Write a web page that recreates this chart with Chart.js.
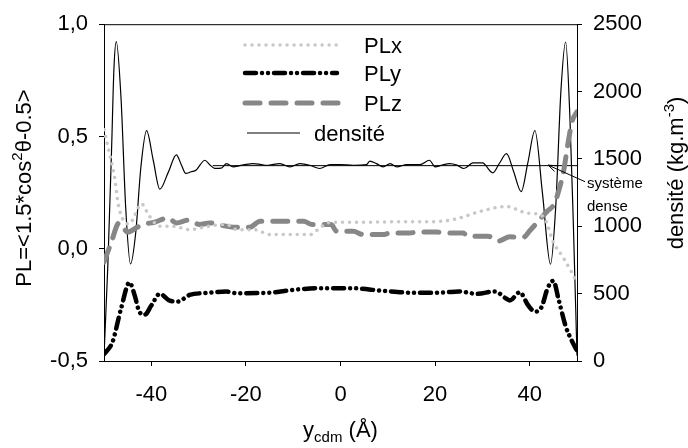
<!DOCTYPE html>
<html>
<head>
<meta charset="utf-8">
<script src="https://cdn.jsdelivr.net/npm/chart.js@4"></script>
<style>
  html, body { margin: 0; padding: 0; background: #fff; }
  #wrap { width: 688px; height: 448px; }
</style>
</head>
<body>
<div id="wrap"><canvas id="chart" width="688" height="448"></canvas></div>
<script>
// x positions (Å) and values
const plxX = [-50, -48.8, -47.7, -47.0, -46.0, -44.6, -43.5, -42.1, -40.4, -38.2, -35.4, -31.9, -28.0, -24.1, -21.9, -18.3, -14.8, -6.4, -4.2, -2.1, 5, 12, 18, 23.1, 25.2, 29.5, 35.1, 39.4, 42.2, 43.5, 44.9, 47.1, 48.9, 49.8];
const plxY = [0.53, 0.42, 0.31, 0.20, 0.13, 0.11, 0.15, 0.20, 0.145, 0.10, 0.10, 0.085, 0.10, 0.108, 0.085, 0.085, 0.063, 0.063, 0.096, 0.118, 0.118, 0.12, 0.12, 0.127, 0.137, 0.166, 0.188, 0.159, 0.152, 0.12, 0.034, -0.04, -0.106, -0.145];

const plyX = [-50, -48.2, -46.4, -44.6, -43.5, -42.5, -41.4, -40.0, -38.2, -36.1, -34.4, -31.9, -28.4, -24.1, -22, -15, -9.5, -4.4, 2.3, 8.8, 15.4, 21.7, 25, 28.9, 32.6, 35.1, 35.8, 37.9, 39.7, 41.1, 42.5, 43.8, 45.0, 46.1, 47.6, 48.9, 49.9];
const plyY = [-0.47, -0.415, -0.267, -0.15, -0.209, -0.282, -0.294, -0.253, -0.201, -0.231, -0.235, -0.206, -0.197, -0.191, -0.198, -0.196, -0.182, -0.176, -0.176, -0.187, -0.196, -0.195, -0.19, -0.201, -0.19, -0.223, -0.23, -0.194, -0.253, -0.28, -0.26, -0.175, -0.143, -0.225, -0.345, -0.41, -0.45];

const plzX = [-50, -48.5, -46.8, -45.0, -43.2, -41.8, -39.3, -36.5, -34.7, -32.2, -29.8, -27.7, -24.8, -22.7, -19.2, -17, -11.7, -7.8, -6, -2, -0.8, 2.7, 4.8, 9, 10.5, 14.7, 16, 20.3, 23, 25.9, 27, 31.2, 33.3, 35.8, 38.6, 40, 41.5, 43.6, 45.2, 46.3, 47.2, 48.1, 49, 50];
const plzY = [-0.06, 0.026, 0.115, 0.074, 0.093, 0.108, 0.118, 0.137, 0.115, 0.127, 0.108, 0.115, 0.103, 0.096, 0.096, 0.122, 0.122, 0.122, 0.108, 0.108, 0.078, 0.078, 0.063, 0.063, 0.07, 0.07, 0.074, 0.074, 0.07, 0.07, 0.056, 0.056, 0.034, 0.053, 0.05, 0.08, 0.115, 0.165, 0.2, 0.27, 0.35, 0.47, 0.57, 0.61];

const densX = [-50, -49.2, -48.4, -47.9, -47.4, -46.4, -45.4, -44.4, -43.3, -42.2, -41.0, -39.6, -38.2, -36.4, -34.7, -33.7, -32.7, -31.6, -30.5, -29.6, -28.7, -27.6, -26.6, -25.2, -24.1, -22.7, -21.3, -19.9, -18.5, -17.0, -15.6, -14.2, -12.8, -10.7, -8.6, -6.5, -4.4, -2.2, -0.1, 2.7, 5.5, 6.2, 7.6, 9.0, 10.5, 11.9, 14.0, 16.8, 18.8, 20.0, 21.5, 23.1, 24.6, 26.1, 28.0, 30.0, 32.2, 33.6, 35.1, 36.6, 38.2, 39.6, 41.1, 42.7, 44.4, 45.5, 46.6, 47.6, 48.5, 49.2, 50];
const densY = [40, 700, 1570, 2170, 2370, 1950, 1130, 720, 950, 1440, 1710, 1492, 1275, 1402, 1530, 1461, 1392, 1405, 1418, 1460, 1490, 1455, 1430, 1432, 1465, 1441, 1450, 1460, 1465, 1460, 1453, 1460, 1465, 1441, 1465, 1453, 1429, 1458, 1458, 1453, 1458, 1483, 1465, 1441, 1465, 1441, 1458, 1458, 1490, 1441, 1455, 1465, 1454, 1429, 1470, 1470, 1397, 1468, 1539, 1407, 1257, 1470, 1711, 1244, 718, 1143, 2005, 2368, 1810, 1050, 40];

// bulk density of the dense system
const bulkX = [-27, 50];
const bulkY = [1450, 1450];

const xTicks = [-40, -20, 0, 20, 40];

const pts = (xs, ys) => xs.map((x, i) => ({ x: x, y: ys[i] }));
const FONT = "'Liberation Sans', Arial, sans-serif";

function drawRuns(ctx, runs, x, y) {
  let total = 0;
  runs.forEach(r => { ctx.font = r.size + "px " + FONT; r.w = ctx.measureText(r.t).width; total += r.w; });
  let cx = x - total / 2;
  runs.forEach(r => {
    ctx.font = r.size + "px " + FONT;
    ctx.fillText(r.t, cx, y + (r.dy || 0));
    cx += r.w;
  });
}

const overlay = {
  id: "overlay",
  beforeDraw(chart) {
    const ctx = chart.ctx;
    ctx.save();
    ctx.fillStyle = "#fff";
    ctx.fillRect(0, 0, chart.width, chart.height);
    ctx.restore();
  },
  afterDraw(chart) {
    const ctx = chart.ctx;
    const a = chart.chartArea;
    const sx = chart.scales.x, sy2 = chart.scales.y2;
    ctx.save();
    ctx.strokeStyle = "#000";
    ctx.lineWidth = 1;
    ctx.beginPath();
    ctx.moveTo(a.left, a.top + 0.5);
    ctx.lineTo(a.right, a.top + 0.5);
    ctx.stroke();

    // arrow "système dense"
    const tipX = sx.getPixelForValue(43.9), tipY = sy2.getPixelForValue(1454);
    const tailX = sx.getPixelForValue(51.7), tailY = sy2.getPixelForValue(1331);
    ctx.beginPath();
    ctx.moveTo(tailX, tailY);
    ctx.lineTo(tipX, tipY);
    const ang = Math.atan2(tipY - tailY, tipX - tailX);
    for (const s of [-1, 1]) {
      ctx.moveTo(tipX, tipY);
      ctx.lineTo(tipX - 9 * Math.cos(ang + s * 0.35), tipY - 9 * Math.sin(ang + s * 0.35));
    }
    ctx.stroke();
    ctx.fillStyle = "#000";
    ctx.font = "15px " + FONT;
    ctx.textAlign = "left";
    ctx.textBaseline = "middle";
    ctx.fillText("système", sx.getPixelForValue(52.1), sy2.getPixelForValue(1316));
    ctx.fillText("dense", sx.getPixelForValue(52.1), sy2.getPixelForValue(1147));

    // legend
    const rows = [
      { ds: 0, y: 45, x0: 245, x1: 342, tx: 364 },
      { ds: 1, y: 73, x0: 245, x1: 337, tx: 364 },
      { ds: 2, y: 103, x0: 245, x1: 342, tx: 364 },
      { ds: 3, y: 133, x0: 247, x1: 300, tx: 314 }
    ];
    rows.forEach(r => {
      const d = chart.data.datasets[r.ds];
      ctx.save();
      ctx.strokeStyle = d.borderColor;
      ctx.lineWidth = d.borderWidth;
      ctx.lineCap = d.borderCapStyle || "butt";
      ctx.setLineDash(d.borderDash || []);
      ctx.beginPath();
      ctx.moveTo(r.x0, r.y);
      ctx.lineTo(r.x1, r.y);
      ctx.stroke();
      ctx.restore();
      ctx.fillStyle = "#000";
      ctx.font = "22px " + FONT;
      ctx.textAlign = "left";
      ctx.textBaseline = "alphabetic";
      ctx.fillText(d.label, r.tx, r.y + 8);
    });

    // axis titles
    ctx.textAlign = "left";
    ctx.textBaseline = "alphabetic";
    ctx.fillStyle = "#000";
    drawRuns(ctx, [
      { t: "y", size: 22 },
      { t: "cdm", size: 15, dy: 5 },
      { t: " (Å)", size: 22 }
    ], (a.left + a.right) / 2, 437);

    ctx.save();
    ctx.translate(31, 188);
    ctx.rotate(-Math.PI / 2);
    drawRuns(ctx, [
      { t: "PL=<1.5*cos", size: 22 },
      { t: "2", size: 15, dy: -9 },
      { t: "θ-0.5>", size: 22 }
    ], 0, 0);
    ctx.restore();

    ctx.save();
    ctx.translate(683, 173);
    ctx.rotate(-Math.PI / 2);
    drawRuns(ctx, [
      { t: "densité (kg.m", size: 22 },
      { t: "-3", size: 15, dy: -9 },
      { t: ")", size: 22 }
    ], 0, 0);
    ctx.restore();
    ctx.restore();
  }
};

const tickFont = { family: FONT, size: 22 };
const axisGrid = { drawOnChartArea: false, drawTicks: true, tickLength: 5, color: "#000" };
const comma = v => v.toFixed(1).replace(".", ",");

new Chart(document.getElementById("chart"), {
  type: "line",
  data: {
    datasets: [
      {
        label: "PLx",
        data: pts(plxX, plxY),
        yAxisID: "y",
        borderColor: "#c8c8c8",
        borderWidth: 3.5,
        borderDash: [0.01, 7],
        borderCapStyle: "round",
        cubicInterpolationMode: "monotone",
        pointRadius: 0
      },
      {
        label: "PLy",
        data: pts(plyX, plyY),
        yAxisID: "y",
        borderColor: "#000",
        borderWidth: 4.5,
        borderDash: [11, 6, 0.01, 6, 0.01, 6],
        borderCapStyle: "round",
        cubicInterpolationMode: "monotone",
        pointRadius: 0
      },
      {
        label: "PLz",
        data: pts(plzX, plzY),
        yAxisID: "y",
        borderColor: "#878787",
        borderWidth: 5,
        borderDash: [15, 11],
        borderCapStyle: "round",
        cubicInterpolationMode: "monotone",
        pointRadius: 0
      },
      {
        label: "densité",
        data: pts(densX, densY),
        yAxisID: "y2",
        borderColor: "#000",
        borderWidth: 1.2,
        cubicInterpolationMode: "monotone",
        pointRadius: 0
      },
      {
        label: "système dense",
        data: pts(bulkX, bulkY),
        yAxisID: "y2",
        borderColor: "#000",
        borderWidth: 1,
        pointRadius: 0
      }
    ]
  },
  options: {
    responsive: false,
    animation: false,
    devicePixelRatio: 1,
    layout: { padding: { top: 21, left: 0, right: 0, bottom: 0 } },
    plugins: { legend: { display: false }, tooltip: { enabled: false } },
    scales: {
      x: {
        type: "linear",
        min: -50,
        max: 50,
        afterBuildTicks: s => { s.ticks = xTicks.map(v => ({ value: v })); },
        afterFit: s => { s.height = 87; },
        grid: axisGrid,
        border: { color: "#000", width: 1 },
        ticks: { font: tickFont, color: "#000", padding: 16, maxRotation: 0, callback: v => String(v) }
      },
      y: {
        position: "left",
        min: -0.5,
        max: 1.0,
        afterFit: s => { s.width = 104; },
        grid: axisGrid,
        border: { color: "#000", width: 1 },
        ticks: { stepSize: 0.5, font: tickFont, color: "#000", padding: 11, callback: comma }
      },
      y2: {
        position: "right",
        min: 0,
        max: 2500,
        afterFit: s => { s.width = 111; },
        grid: axisGrid,
        border: { color: "#000", width: 1 },
        ticks: { stepSize: 500, font: tickFont, color: "#000", padding: 11, callback: v => String(v) }
      }
    }
  },
  plugins: [overlay]
});
</script>
</body>
</html>
